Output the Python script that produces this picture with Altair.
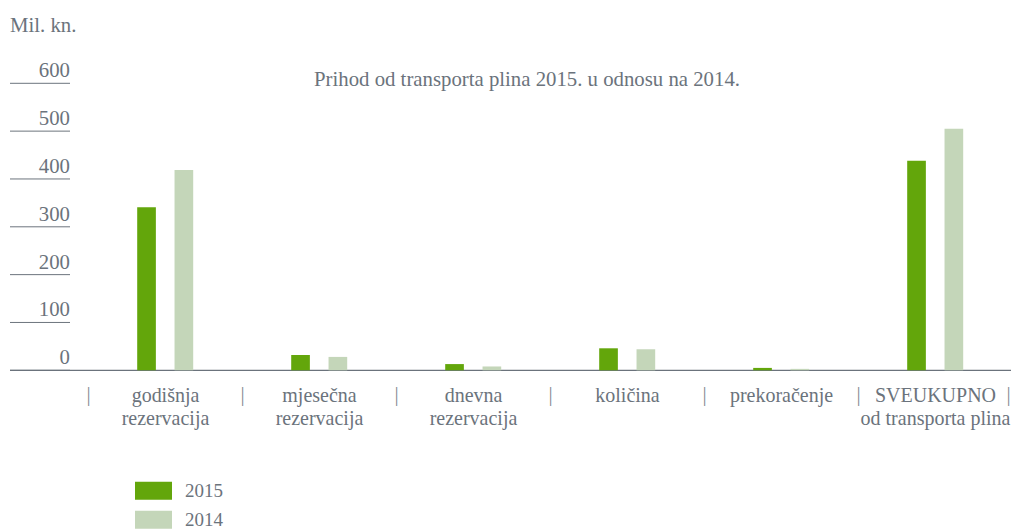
import altair as alt
import pandas as pd

categories = ["godišnja\nrezervacija", "mjesečna\nrezervacija", "dnevna\nrezervacija",
              "količina", "prekoračenje", "SVEUKUPNO\nod transporta plina"]
values_2015 = [341, 32, 13, 46, 5, 438]
values_2014 = [419, 28, 8, 44, 3, 505]
years = ["2015", "2014"]
y_ticks = [0, 100, 200, 300, 400, 500, 600]
title_text = "Prihod od transporta plina 2015. u odnosu na 2014."
unit_text = "Mil. kn."

FONT = "Liberation Serif"
FS = 20.8
FS_CAT = 20
TXT = "#6b737c"
COLORS = ["#63a60b", "#c4d6b9"]

rows = []
for c, a, b in zip(categories, values_2015, values_2014):
    rows.append({"cat": c, "year": "2015", "value": a})
    rows.append({"cat": c, "year": "2014", "value": b})
df = pd.DataFrame(rows)
df_cats = pd.DataFrame({"cat": categories})
df_last = pd.DataFrame({"cat": [categories[-1]]})
df_ticks = pd.DataFrame({"v": y_ticks})
df_zero = pd.DataFrame({"v": [0]})

W, H = 1001, 287
yscale = alt.Scale(domain=[0, 600], nice=False, zero=True)
xscale = alt.Scale(domain=categories, range=[78.5, 1002.5], paddingInner=0, paddingOuter=0)

bars = alt.Chart(df).mark_bar().encode(
    x=alt.X("cat:N", sort=categories, scale=xscale, axis=None),
    xOffset=alt.XOffset("year:N", sort=years,
                        scale=alt.Scale(domain=years, range=[48.7, 104.7],
                                        paddingInner=0.5, paddingOuter=0)),
    y=alt.Y("value:Q", scale=yscale, axis=None),
    color=alt.Color("year:N", sort=years,
                    scale=alt.Scale(domain=years, range=COLORS),
                    legend=alt.Legend(orient="none", legendX=125, legendY=389, title=None,
                                      symbolType="M-1,-0.487L1,-0.487L1,0.487L-1,0.487Z",
                                      symbolSize=1369, symbolStrokeWidth=0, symbolOpacity=1,
                                      rowPadding=-6, labelFont=FONT, labelFontSize=19,
                                      labelColor=TXT, labelOffset=13, padding=0)),
)

tick_rules = alt.Chart(df_ticks).mark_rule(color=TXT, strokeWidth=1).encode(
    y=alt.Y("v:Q", scale=yscale, axis=None),
    x=alt.value(0), x2=alt.value(60),
)
baseline = alt.Chart(df_zero).mark_rule(color=TXT, strokeWidth=1.2).encode(
    y=alt.Y("v:Q", scale=yscale, axis=None),
    x=alt.value(0), x2=alt.value(W),
)
tick_labels = alt.Chart(df_ticks).mark_text(
    align="right", baseline="alphabetic", dy=-6, font=FONT, fontSize=FS, color=TXT
).encode(
    y=alt.Y("v:Q", scale=yscale, axis=None),
    x=alt.value(60),
    text=alt.Text("v:Q"),
)

cat_labels = alt.Chart(df_cats).mark_text(
    align="center", baseline="alphabetic", font=FONT, fontSize=FS_CAT, color=TXT,
    lineBreak="\n", lineHeight=23.3
).encode(
    x=alt.X("cat:N", sort=categories, scale=xscale, axis=None),
    y=alt.value(H + 31.4),
    text="cat:N",
)

seps = alt.Chart(df_cats).mark_text(
    align="center", baseline="alphabetic", font=FONT, fontSize=FS, color="#858c94"
).encode(
    x=alt.X("cat:N", sort=categories, scale=xscale, axis=None, bandPosition=0),
    y=alt.value(H + 31),
    text=alt.value("|"),
)
sep_last = alt.Chart(df_last).mark_text(
    align="center", baseline="alphabetic", font=FONT, fontSize=FS, color="#858c94", dx=-4
).encode(
    x=alt.X("cat:N", sort=categories, scale=xscale, axis=None, bandPosition=1),
    y=alt.value(H + 31),
    text=alt.value("|"),
)

title = alt.Chart(df_zero).mark_text(
    align="center", baseline="alphabetic", font=FONT, fontSize=FS, color=TXT
).encode(
    x=alt.value(517), y=alt.value(2.7), text=alt.value(title_text)
)
unit = alt.Chart(df_zero).mark_text(
    align="left", baseline="alphabetic", font=FONT, fontSize=FS, color=TXT
).encode(
    x=alt.value(0), y=alt.value(-51.6), text=alt.value(unit_text)
)

chart = alt.layer(
    tick_rules, baseline, tick_labels, bars, cat_labels, seps, sep_last, title, unit
).properties(
    width=W, height=H,
    autosize=alt.AutoSizeParams(type="none"),
    padding={"left": 2, "top": 75.3, "right": 0, "bottom": 162},
).configure_view(stroke=None)

chart.save("out.html", embed_options={"renderer": "svg", "actions": False})
